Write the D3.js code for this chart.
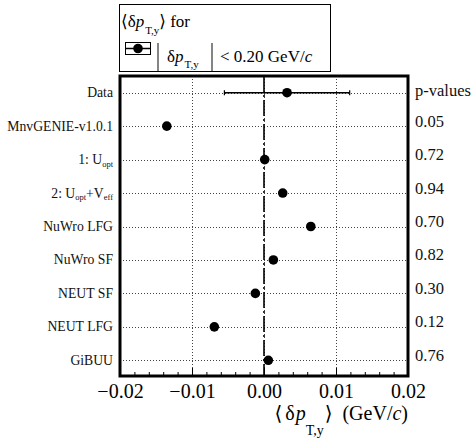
<!DOCTYPE html>
<html>
<head>
<meta charset="utf-8">
<script src="https://cdn.jsdelivr.net/npm/d3@7"></script>
<style>
  html, body { margin: 0; padding: 0; background: #fff; }
  svg { display: block; }
  svg text { font-family: "Liberation Serif", "Tinos", "Times New Roman", Times, "DejaVu Serif", serif; }
</style>
</head>
<body>
<svg id="chart" width="474" height="444"></svg>
<script>
// ---- data ----
const models = ["Data", "MnvGENIE-v1.0.1", "1: U_{opt}", "2: U_{opt}+V_{eff}", "NuWro LFG", "NuWro SF", "NEUT SF", "NEUT LFG", "GiBUU"];
const meanValues = [0.0032, -0.0135, 0.0001, 0.0026, 0.0065, 0.0013, -0.0012, -0.0069, 0.0006];
const dataError = 0.0087;
const pValues = ["p-values", "0.05", "0.72", "0.94", "0.70", "0.82", "0.30", "0.12", "0.76"];
const majorTicks = [-0.02, -0.01, 0.00, 0.01, 0.02];
const minorTicks = d3.range(-0.02, 0.02001, 0.002);
const legendCut = "< 0.20 GeV/";

const FONT = '"Liberation Serif", "Tinos", "Times New Roman", Times, "DejaVu Serif", serif';

// ---- layout ----
const svg = d3.select("#chart");
const L = 120, R = 408, T = 76, B = 376;

const x = d3.scaleLinear().domain([-0.02, 0.02]).range([L, R]);
const y = d3.scalePoint().domain(models).range([T, B + 1]).padding(0.5);

// grid lines
const grid = svg.append("g").attr("stroke", "#444").attr("stroke-width", 1).attr("stroke-dasharray", "1,2");
grid.selectAll("line.h").data(models).join("line")
  .attr("x1", L).attr("x2", R)
  .attr("y1", d => Math.round(y(d)) + 0.5).attr("y2", d => Math.round(y(d)) + 0.5);
grid.selectAll("line.v").data(majorTicks.slice(1, -1)).join("line")
  .attr("x1", d => Math.round(x(d)) + 0.5).attr("x2", d => Math.round(x(d)) + 0.5)
  .attr("y1", T).attr("y2", B);

// zero reference line
svg.append("line")
  .attr("x1", x(0)).attr("x2", x(0)).attr("y1", T).attr("y2", B)
  .attr("stroke", "#000").attr("stroke-width", 1.6).attr("stroke-dasharray", "16,3,2,3");

// axes
const minorAxis = d3.axisBottom(x).tickValues(minorTicks).tickSize(-4).tickFormat("");
const majorAxis = d3.axisBottom(x).tickValues(majorTicks).tickSize(-8).tickPadding(8)
  .tickFormat(d3.format(".2f"));
const gMinor = svg.append("g").attr("transform", `translate(0,${B})`).call(minorAxis);
const gMajor = svg.append("g").attr("transform", `translate(0,${B})`).call(majorAxis);
[gMinor, gMajor].forEach(g => {
  g.attr("font-family", FONT);
  g.select(".domain").remove();
  g.selectAll(".tick line").attr("stroke", "#000").attr("stroke-width", 1);
});
gMajor.selectAll(".tick text")
  .attr("font-family", FONT).attr("font-size", 20).attr("fill", "#000");

// data error bar
const dy0 = y(models[0]);
svg.append("line")
  .attr("x1", x(meanValues[0] - dataError)).attr("x2", x(meanValues[0] + dataError))
  .attr("y1", dy0).attr("y2", dy0).attr("stroke", "#000").attr("stroke-width", 1.5);
[meanValues[0] - dataError, meanValues[0] + dataError].forEach(v => {
  svg.append("line").attr("x1", x(v)).attr("x2", x(v))
    .attr("y1", dy0 - 2.5).attr("y2", dy0 + 2.5).attr("stroke", "#000").attr("stroke-width", 1.2);
});

// points
svg.append("g").selectAll("circle").data(models).join("circle")
  .attr("cx", (d, i) => x(meanValues[i]))
  .attr("cy", d => y(d))
  .attr("r", 4.8)
  .attr("fill", "#000");

// frame
svg.append("rect").attr("x", L).attr("y", T).attr("width", R - L).attr("height", B - T)
  .attr("fill", "none").attr("stroke", "#000").attr("stroke-width", 3);

// helper: text with _{sub}
function richText(sel, str, subSize, subShift) {
  const parts = str.split(/(_\{[^}]*\})/).filter(s => s.length);
  let pending = 0;
  parts.forEach(p => {
    if (p.startsWith("_{")) {
      sel.append("tspan").attr("font-size", subSize).attr("dy", subShift + pending).text(p.slice(2, -1));
      pending = -subShift;
    } else {
      const t = sel.append("tspan").text(p);
      if (pending) t.attr("dy", pending);
      pending = 0;
    }
  });
}

// y labels
svg.append("g").selectAll("text").data(models).join("text")
  .attr("font-family", FONT)
  .attr("x", 113).attr("y", d => y(d) + 4.5)
  .attr("text-anchor", "end").attr("font-size", 13.7).attr("fill", "#111")
  .each(function (d) { richText(d3.select(this), d, 8.5, 2.5); });

// p-values
svg.append("g").selectAll("text").data(pValues).join("text")
  .attr("font-family", FONT)
  .attr("x", 415).attr("y", (d, i) => y(models[i]) + (i === 0 ? 3 : 0.5))
  .attr("font-size", 16.5).attr("fill", "#111")
  .text(d => d);

// x-axis title
const xt = svg.append("text").attr("x", 408).attr("y", 420).attr("font-family", FONT)
  .attr("text-anchor", "end").attr("font-size", 20).attr("fill", "#000");
xt.append("tspan").text("\u27E8");
xt.append("tspan").attr("dx", 3).text("\u03B4");
xt.append("tspan").attr("dx", 1).attr("font-style", "italic").text("p");
xt.append("tspan").attr("font-size", 14).attr("dx", 0).attr("dy", 15).text("T,y");
xt.append("tspan").attr("dy", -15).attr("dx", 1).text("\u27E9");
xt.append("tspan").attr("dx", 10).text("(GeV/");
xt.append("tspan").attr("font-style", "italic").text("c");
xt.append("tspan").text(")");

// legend box
const lg = svg.append("g");
lg.append("rect").attr("x", 119.5).attr("y", 4.5).attr("width", 211).attr("height", 67)
  .attr("fill", "#fff").attr("stroke", "#000").attr("stroke-width", 1);
const l1 = lg.append("text").attr("x", 121).attr("y", 27).attr("font-family", FONT)
  .attr("font-size", 17).attr("fill", "#000");
l1.append("tspan").text("\u27E8\u03B4");
l1.append("tspan").attr("font-style", "italic").text("p");
l1.append("tspan").attr("font-size", 11).attr("dx", 1).attr("dy", 7).text("T,y");
l1.append("tspan").attr("dy", -7).text("\u27E9 for");

// legend symbol
lg.append("rect").attr("x", 125.5).attr("y", 42.5).attr("width", 25).attr("height", 12)
  .attr("fill", "none").attr("stroke", "#000").attr("stroke-width", 1);
lg.append("line").attr("x1", 125.5).attr("x2", 150.5).attr("y1", 48.5).attr("y2", 48.5)
  .attr("stroke", "#000").attr("stroke-width", 1.5);
lg.append("circle").attr("cx", 138).attr("cy", 48.5).attr("r", 4.8).attr("fill", "#000");

// |δp_T,y| < 0.20 GeV/c
[158, 212].forEach(px => {
  lg.append("line").attr("x1", px).attr("x2", px).attr("y1", 43).attr("y2", 71)
    .attr("stroke", "#333").attr("stroke-width", 1.2);
});
const l2 = lg.append("text").attr("x", 167).attr("y", 62).attr("font-family", FONT)
  .attr("font-size", 17).attr("fill", "#000");
l2.append("tspan").text("\u03B4");
l2.append("tspan").attr("font-style", "italic").text("p");
l2.append("tspan").attr("font-size", 11).attr("dx", 1).attr("dy", 6).text("T,y");
const l3 = lg.append("text").attr("x", 220).attr("y", 62).attr("font-family", FONT)
  .attr("font-size", 17).attr("fill", "#000");
l3.append("tspan").text(legendCut);
l3.append("tspan").attr("font-style", "italic").text("c");
</script>
</body>
</html>
